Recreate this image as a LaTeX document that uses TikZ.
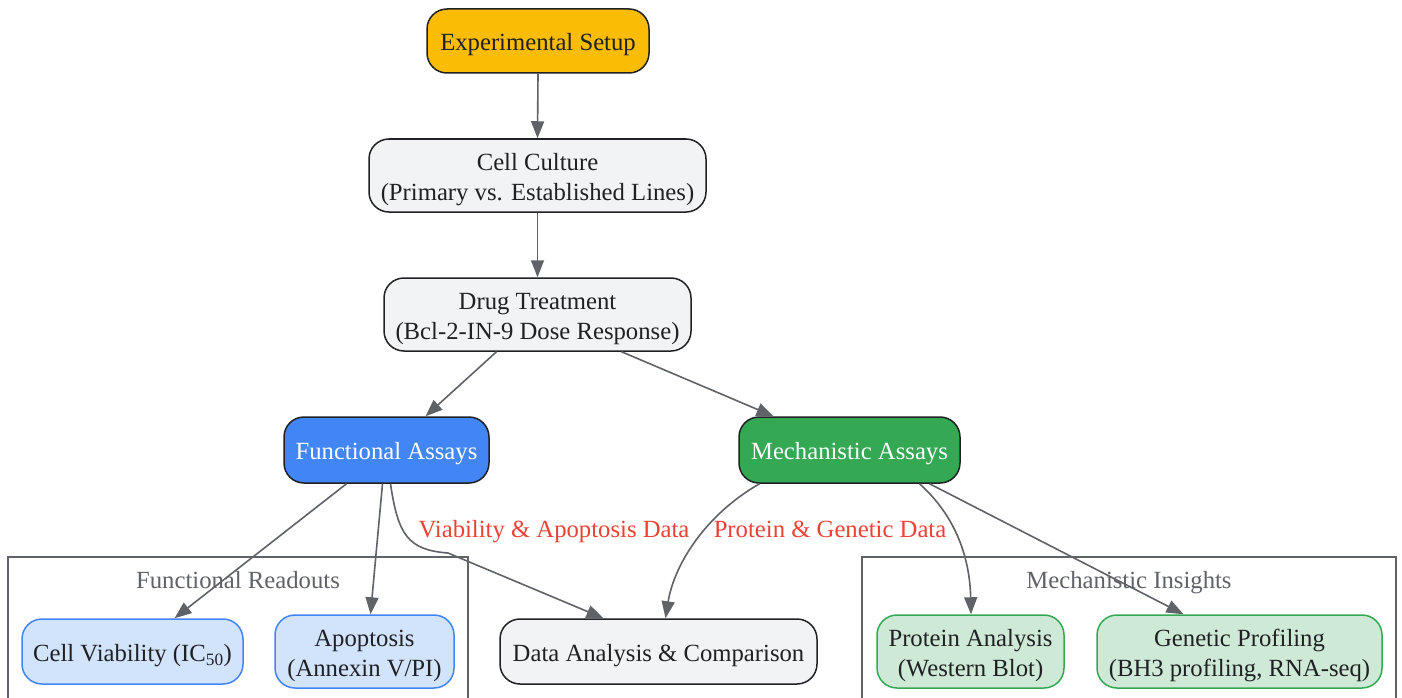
\documentclass[tikz,border=0pt]{standalone}
\usepackage{fontspec}
\setmainfont{Liberation Serif}
\usetikzlibrary{arrows.meta,calc}
\definecolor{cyellow}{HTML}{FBBC05}
\definecolor{cgrayfill}{HTML}{F1F3F4}
\definecolor{cborder}{HTML}{202124}
\definecolor{cblue}{HTML}{4285F4}
\definecolor{cgreen}{HTML}{34A853}
\definecolor{clblue}{HTML}{D2E3FC}
\definecolor{clgreen}{HTML}{CEEAD6}
\definecolor{cedge}{HTML}{5F6368}
\definecolor{cred}{HTML}{EA4335}
\newcommand{\tpad}{\rule{0pt}{25pt}}
\tikzset{
  box/.style={draw=cborder, line width=1.5pt, rounded corners=20pt, align=center,
    inner sep=0pt, text=cborder, font=\fontsize{24.7}{30}\selectfont},
  topbox/.style={box, fill=cyellow},
  graybox/.style={box, fill=cgrayfill},
  bluebox/.style={box, fill=cblue, text=white},
  greenbox/.style={box, fill=cgreen, text=white},
  lbluebox/.style={box, fill=clblue, draw=cblue},
  lgreenbox/.style={box, fill=clgreen, draw=cgreen},
  edge/.style={draw=cedge, line width=1.6pt, -{Triangle[length=17pt,width=13pt]}},
  elabel/.style={text=cred, font=\fontsize{24.7}{30}\selectfont, inner sep=0pt, anchor=base},
  cluster/.style={draw=cedge, line width=1.6pt},
  ctitle/.style={text=cedge, font=\fontsize{24.7}{30}\selectfont, inner sep=0pt, anchor=base}
}
\begin{document}
\begin{tikzpicture}[x=1pt,y=-1pt]
\useasboundingbox[fill=white] (0,0) rectangle (1402,698);
% clusters
\draw[cluster] (8,698) -- (8,557) -- (468,557) -- (468,698);
\node[ctitle] (t1) at (238,588) {Functional Readouts};
\draw[cluster] (862,698) -- (862,557) -- (1396,557) -- (1396,698);
\node[ctitle] (t2) at (1129,588) {Mechanistic Insights};
% nodes
\node[topbox, minimum width=222pt, minimum height=64pt] (es) at (538,41) {\tpad Experimental Setup};
\node[graybox, minimum width=337pt, minimum height=73pt] (cc) at (537.5,175.5) {\tpad Cell Culture\\(Primary vs. Established Lines)};
\node[graybox, minimum width=307pt, minimum height=73pt] (dt) at (537.5,314.5) {\tpad Drug Treatment\\(Bcl-2-IN-9 Dose Response)};
\node[bluebox, minimum width=205pt, minimum height=66pt] (fa) at (386.5,450) {\tpad Functional Assays};
\node[greenbox, minimum width=221pt, minimum height=66pt] (ma) at (849.5,450) {\tpad Mechanistic Assays};
\node[lbluebox, minimum width=221pt, minimum height=65pt] (cv) at (132.5,651.5) {\tpad Cell Viability (IC\textsubscript{50})};
\node[lbluebox, minimum width=179pt, minimum height=73pt] (ap) at (364.5,651.5) {\tpad Apoptosis\\(Annexin V/PI)};
\node[graybox, minimum width=317pt, minimum height=65pt] (da) at (658.5,651.5) {\tpad Data Analysis \& Comparison};
\node[lgreenbox, minimum width=187pt, minimum height=73pt] (pa) at (970.5,651.5) {\tpad Protein Analysis\\(Western Blot)};
\node[lgreenbox, minimum width=285pt, minimum height=73pt] (gp) at (1239.5,651.5) {\tpad Genetic Profiling\\(BH3 profiling, RNA-seq)};
% edges
\draw[edge] (es.south) -- (cc.north);
\draw[edge] (cc.south) -- (dt.north);
\draw[edge] ($(dt.south)+(-41,0)$) -- ($(fa.north)+(39,0)$);
\draw[edge] ($(dt.south)+(84,0)$) -- ($(ma.north)+(-76,0)$);
\draw[edge] ($(fa.south)+(-40,0)$) -- ($(cv.north)+(42,0)$);
\draw[edge] ($(fa.south)+(-4,0)$) -- ($(ap.north)+(6,0)$);
\draw[edge] ($(fa.south)+(4,0)$) .. controls (398,535) and (408,550) .. (448,553) -- ($(da.north)+(-55,0)$);
\draw[edge] ($(ma.south)+(-90,0)$) .. controls (705,515) and (674,565) .. ($(da.north)+(7,0)$);
\draw[edge] ($(ma.south)+(70,0)$) .. controls (960,520) and (970,565) .. ($(pa.north)+(0.5,0)$);
\draw[edge] ($(ma.south)+(80,0)$) -- ($(gp.north)+(-56,0)$);
% edge labels
\node[elabel] (l1) at (554,537) {Viability \& Apoptosis Data};
\node[elabel] (l2) at (830,537) {Protein \& Genetic Data};
\end{tikzpicture}
\end{document}
